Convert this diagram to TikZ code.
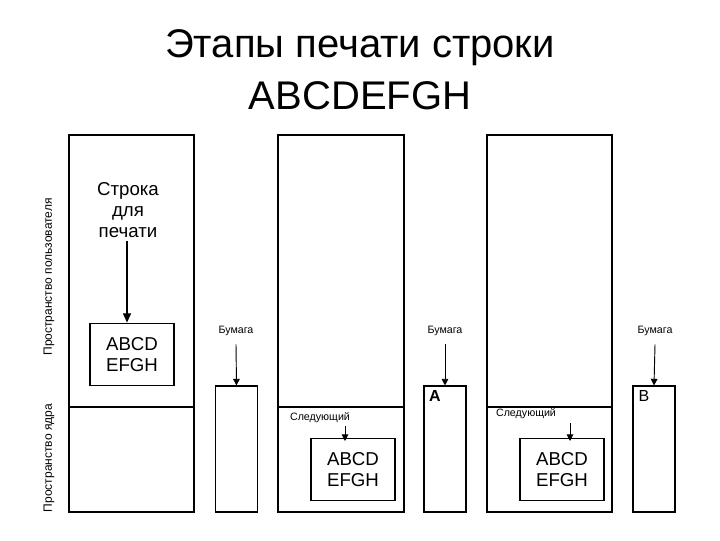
\documentclass[tikz,border=0pt]{standalone}
\usepackage{fontspec}
\setmainfont{Liberation Sans}
\usetikzlibrary{arrows.meta}
\begin{document}
\begin{tikzpicture}[x=0.75pt,y=-0.75pt,
  frame/.style={draw,line width=0.8pt},
  arr/.style={draw,line width=1pt,-{Triangle[length=7pt,width=6pt]}},
  sarr/.style={draw,line width=0.7pt,-{Triangle[length=5pt,width=5pt]}},
  small/.style={font=\fontsize{8}{9}\selectfont},
  paper/.style={draw,line width=0.8pt,minimum width=31.5pt,minimum height=94.5pt,inner sep=0pt},
  box/.style={draw,line width=0.8pt,minimum width=63pt,minimum height=47pt,align=left,font=\fontsize{14}{16}\selectfont,inner sep=0pt}]
\useasboundingbox (0,0) rectangle (720,540);
\node[font=\fontsize{30}{39}\selectfont,align=center] (title) at (360,70) {Этапы печати строки\\ABCDEFGH};
% panel 1
\draw[frame] (69,135) rectangle (194,512);
\draw[frame] (69,407) -- (194,407);
\node[align=center,font=\fontsize{14}{16}\selectfont] (str) at (128,210) {Строка\\для\\печати};
\node[box] (b1) at (132,354.5) {ABCD\\EFGH};
\draw[arr] (127,241) -- (b1.north -| 127,0);
\node[font=\fontsize{9}{10}\selectfont,rotate=90] (lu) at (49,277) {Пространство пользователя};
\node[font=\fontsize{9}{10}\selectfont,rotate=90] (lk) at (49,458) {Пространство ядра};
% paper 1
\node[paper] (p1) at (236.5,449) {};
\node[small] (bm1) at (236,331) {Бумага};
\draw[sarr] (bm1.south) ++(0,4) -- (p1.north);
% panel 2
\draw[frame] (278,135) rectangle (404,512);
\draw[frame] (278,407) -- (404,407);
\node[small] (n2) at (320,418) {Следующий};
\node[box] (b2) at (353,469.5) {ABCD\\EFGH};
\draw[sarr] (345,426) -- (345,441);
% paper 2
\node[paper] (p2) at (445,449) {};
\node[small] (bm2) at (445,331) {Бумага};
\draw[sarr] (bm2.south) ++(0,4) -- (p2.north);
\node[font=\bfseries\fontsize{12}{13}\selectfont] (A) at (435,396) {A};
% panel 3
\draw[frame] (487,135) rectangle (612,512);
\draw[frame] (487,407) -- (612,407);
\node[small] (n3) at (526,414) {Следующий};
\node[box] (b3) at (562,469.5) {ABCD\\EFGH};
\draw[sarr] (570,423) -- (570,441);
% paper 3
\node[paper] (p3) at (654,449) {};
\node[small] (bm3) at (655,331) {Бумага};
\draw[sarr] (bm3.south) ++(0,4) -- (p3.north);
\node[font=\fontsize{12}{13}\selectfont] (B) at (644,396) {B};
\end{tikzpicture}
\end{document}
